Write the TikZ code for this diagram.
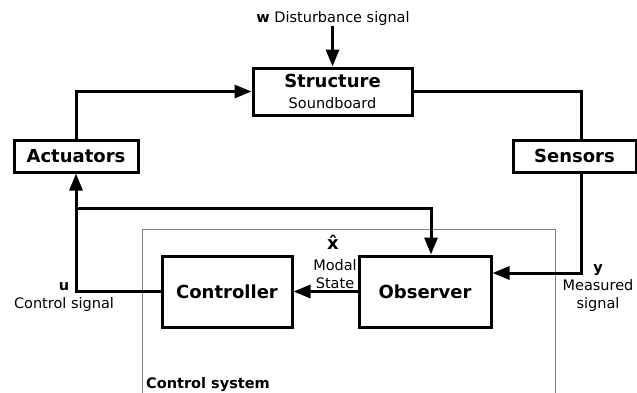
\documentclass[tikz,border=0pt]{standalone}
\usepackage{fontspec}
\setmainfont{DejaVu Sans}
\usetikzlibrary{arrows.meta}
\tikzset{>={Triangle[length = 17pt, width = 13pt]}}
\newcommand{\smallsz}{\fontsize{14.5}{18}\selectfont}
\newcommand{\bigsz}{\fontsize{18}{21}\selectfont}
\tikzstyle{block} = [rectangle, text centered, align = center, inner sep = 0pt, draw = black, line width = 3pt, font = \bigsz\bfseries]
\tikzstyle{signal} = [text centered, align = center, inner sep = 1pt, font = \smallsz]
\tikzstyle{wire} = [line width = 3pt]

\begin{document}
\begin{tikzpicture}[x = 1pt, y = -1pt]
\useasboundingbox (0,0) rectangle (637,392);

% control system frame
\draw [gray, line width = 1pt] (142,400) -- (142,229) -- (555,229) -- (555,400);
\node (ctrlsys) [anchor = base west, inner sep = 0pt, font = \smallsz\bfseries] at (146,388) {Control system};

\node (struct) [block, minimum width = 159pt, minimum height = 47pt] at (332.5,91.5) {Structure\\{\smallsz\mdseries Soundboard}};
\node (act) [block, minimum width = 124pt, minimum height = 32pt] at (76,156) {Actuators};
\node (sens) [block, minimum width = 123pt, minimum height = 32pt] at (574.5,156) {Sensors};
\node (ctrl) [block, minimum width = 130pt, minimum height = 71pt] at (227,291.5) {Controller};
\node (obs) [block, minimum width = 132pt, minimum height = 71pt] at (425,291.5) {Observer};

\node (dist) [signal, anchor = base] at (333,22) {\textbf{w} Disturbance signal};
\node (xhat) [signal, font = \bigsz\bfseries] at (333,242) {\^{x}};
\node (modal) [signal] at (335,274) {Modal\\State};
\node (usig) [signal] at (64,297) {\textbf{u}\\Control signal};
\node (ysig) [signal] at (598,288) {\textbf{y}\\Measured\\signal};

\coordinate (split) at (act.south |- 0,208);

\draw [wire, ->] (struct.north |- dist.south) -- (struct.north);
\draw [wire, ->] (act.north) |- (struct.west);
\draw [wire] (struct.east) -| ([xshift = 6.5pt]sens.north);
\draw [wire, ->] ([xshift = 6.5pt]sens.south) |- ([yshift = 18.5pt]obs.east);
\draw [wire, ->] (obs.west) -- (ctrl.east);
\draw [wire, ->] (ctrl.west) -| (act.south);
\draw [wire, ->] (split) -| ([xshift = 6pt]obs.north);
\end{tikzpicture}
\end{document}
